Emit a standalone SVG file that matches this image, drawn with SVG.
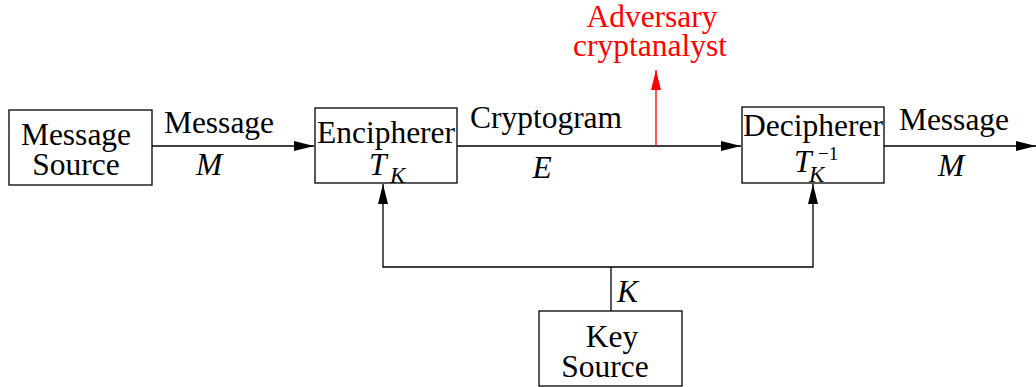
<svg xmlns="http://www.w3.org/2000/svg" width="1036" height="387" viewBox="0 0 1036 387">
  <style>
    .box { fill: #fff; stroke: #000; stroke-width: 1.3; }
    .ln { fill: none; stroke: #000; stroke-width: 1.3; }
    .red { fill: none; stroke: #f00; stroke-width: 1.3; }
    text { font-family: "Liberation Serif", "Times New Roman", serif; font-size: 31.5px; fill: #000; }
    .c { text-anchor: middle; }
    .i { font-style: italic; }
    .sub { font-size: 23px; font-style: italic; }
    .sup { font-size: 19px; }
    .rt { fill: #f00; }
  </style>
  <defs>
    <marker id="ah" viewBox="0 0 20 10" refX="20" refY="5" markerWidth="20" markerHeight="10" markerUnits="userSpaceOnUse" orient="auto">
      <path d="M0,0 L20,5 L0,10 Z" fill="#000"/>
    </marker>
    <marker id="ahr" viewBox="0 0 20 10" refX="20" refY="5" markerWidth="20" markerHeight="10" markerUnits="userSpaceOnUse" orient="auto">
      <path d="M0,0 L20,5 L0,10 Z" fill="#f00"/>
    </marker>
  </defs>

  <g id="connectors">
    <line class="ln" x1="152" y1="146" x2="314" y2="146" marker-end="url(#ah)"/>
    <line class="ln" x1="457" y1="146" x2="741" y2="146" marker-end="url(#ah)"/>
    <line class="ln" x1="884" y1="146" x2="1036" y2="146" marker-end="url(#ah)"/>
    <line class="red" x1="656" y1="146" x2="656" y2="70" marker-end="url(#ahr)"/>
    <line class="ln" x1="611" y1="311" x2="611" y2="267"/>
    <polyline class="ln" points="611,267 383,267 383,184" marker-end="url(#ah)"/>
    <polyline class="ln" points="611,267 813,267 813,184" marker-end="url(#ah)"/>
    <text class="c" x="219" y="133">Message</text>
    <text class="c i" x="209" y="175">M</text>
    <text class="c" x="546" y="128">Cryptogram</text>
    <text class="c i" x="542" y="178">E</text>
    <text class="c" x="954" y="130">Message</text>
    <text class="c i" x="951" y="176">M</text>
    <text class="i" x="617" y="302">K</text>
  </g>

  <g id="adversary">
    <text class="c rt" x="652" y="27">Adversary</text>
    <text class="c rt" x="650" y="56">cryptanalyst</text>
  </g>

  <g id="message-source">
    <rect class="box" x="9" y="110" width="143" height="75"/>
    <text class="c" x="76" y="145">Message</text>
    <text class="c" x="76" y="175">Source</text>
  </g>

  <g id="encipherer">
    <rect class="box" x="315" y="108" width="142" height="75"/>
    <text class="c" x="386" y="143">Encipherer</text>
    <text class="i" x="369" y="175">T</text>
    <text class="sub" x="390" y="183">K</text>
  </g>

  <g id="decipherer">
    <rect class="box" x="742" y="107" width="142" height="76"/>
    <text class="c" x="813" y="136">Decipherer</text>
    <text class="i" x="794" y="172">T</text>
    <text class="sub" x="809" y="182">K</text>
    <text class="sup" x="818" y="160">−1</text>
  </g>

  <g id="key-source">
    <rect class="box" x="539" y="311" width="143" height="75"/>
    <text class="c" x="612" y="347">Key</text>
    <text class="c" x="605" y="377">Source</text>
  </g>
</svg>
